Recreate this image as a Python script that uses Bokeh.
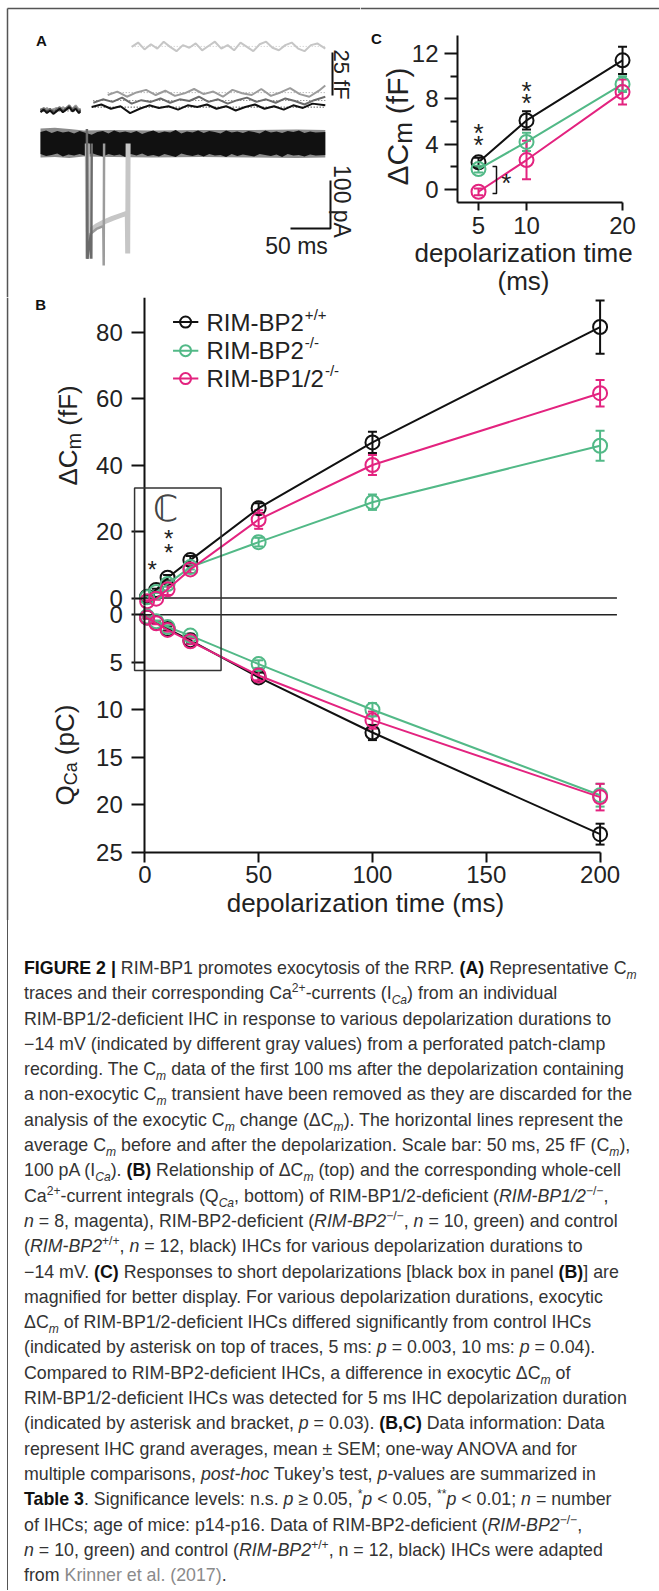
import math
from bokeh.plotting import figure
from bokeh.models import (Range1d, FixedTicker, Whisker, TeeHead, ColumnDataSource,
                          Label, BoxAnnotation, Div, LinearAxis)
from bokeh.layouts import column, row
from bokeh.embed import file_html
from bokeh.resources import INLINE

FONT = "Liberation Sans"
TXT = "#222222"
AXC = "#111111"
BLACK = "#111111"
GREEN = "#52b987"
MAGENTA = "#e3237f"
LGRAY = "#c6c6c6"
MGRAY = "#9c9c9c"
DGRAY = "#6b6b6b"
FRAME = "#555555"

# ---------------- data: panels B and C ----------------
durations = [1, 5, 10, 20, 50, 100, 200]
dcm_wt = [0.4, 2.4, 6.1, 11.4, 27.0, 46.8, 81.5]
dcm_wt_err = [0.3, 0.4, 0.8, 1.2, 1.5, 3.2, 8.0]
dcm_bp2 = [0.2, 1.8, 4.2, 9.3, 16.8, 28.8, 45.8]
dcm_bp2_err = [0.2, 0.3, 0.8, 0.7, 1.3, 2.3, 4.5]
dcm_bp12 = [-1.0, -0.2, 2.6, 8.6, 23.6, 40.0, 61.6]
dcm_bp12_err = [0.3, 0.3, 1.7, 1.1, 2.8, 3.0, 4.0]
qca_wt = [0.3, 0.8, 1.5, 2.7, 6.6, 12.4, 23.1]
qca_wt_err = [0.1, 0.1, 0.2, 0.3, 0.5, 0.8, 1.1]
qca_bp2 = [0.2, 0.7, 1.3, 2.2, 5.2, 10.0, 19.0]
qca_bp2_err = [0.1, 0.1, 0.2, 0.2, 0.4, 0.7, 1.2]
qca_bp12 = [0.3, 0.9, 1.6, 2.8, 6.4, 11.1, 19.2]
qca_bp12_err = [0.1, 0.1, 0.2, 0.3, 0.5, 0.9, 1.4]

short_dur = [5, 10, 20]
c_wt = [2.4, 6.1, 11.4]
c_wt_err = [0.4, 0.8, 1.2]
c_bp2 = [1.8, 4.2, 9.3]
c_bp2_err = [0.3, 0.8, 0.7]
c_bp12 = [-0.2, 2.6, 8.6]
c_bp12_err = [0.3, 1.7, 1.1]

legend_names = ["RIM-BP2", "RIM-BP2", "RIM-BP1/2"]
legend_sups = ["+/+", "-/-", "-/-"]

b_dcm_ticks = [0, 20, 40, 60, 80]
b_q_ticks = [0, 5, 10, 15, 20, 25]
b_t_ticks = [0, 50, 100, 150, 200]
c_y_ticks = [0, 4, 8, 12]
c_y_minor = [2, 6, 10]
c_x_ticks = [5, 10, 20]

# ---------------- data: panel A (representative traces) ----------------
t_pre = [0, 4, 8, 12, 16, 20, 24, 28, 32, 36, 40, 44, 48, 50]
cm_pre_black = [-1.0, 0.5, -1.5, 0.0, -2.0, -0.5, 1.0, -1.0, 0.5, 2.0, -0.5, 1.0, -1.5, -0.5]
cm_pre_dgray = [0.0, 1.5, -0.5, 1.0, -1.0, 0.5, 2.0, 0.0, 1.5, 3.0, 0.5, 2.0, -0.5, 0.5]
cm_pre_gray = [1.0, 0.0, 1.5, -0.5, 0.5, 1.5, 0.0, 2.0, 0.5, 1.5, 1.0, 3.0, 0.5, 1.0]

t_post_black = [64, 76, 88, 100, 112, 124, 136, 148, 160, 172, 184, 196, 208, 220, 232,
                244, 256, 268, 280, 292, 304, 316, 328, 340, 356]
cm_post_black = [2.0, 3.5, 1.0, 2.5, -1.5, 1.0, 3.0, 1.5, 2.5, 0.5, 3.0, 2.0, 3.5, 1.0, 2.5,
                 0.0, 2.0, 3.5, 1.0, 2.5, 0.5, 3.0, 1.5, 4.0, 3.0]
t_post_dgray = [66, 78, 90, 102, 114, 126, 138, 150, 162, 174, 186, 198, 210, 222, 234,
                246, 258, 270, 282, 294, 306, 318, 330, 342, 356]
cm_post_dgray = [4.5, 6.5, 5.0, 7.5, 4.0, 6.0, 5.0, 7.0, 4.5, 6.5, 5.5, 8.0, 5.0, 6.5, 4.0,
                 6.0, 7.5, 5.0, 6.5, 4.5, 7.0, 5.5, 3.5, 6.0, 8.0]
t_post_gray = [84, 96, 108, 120, 132, 144, 156, 168, 180, 192, 204, 216, 228, 240, 252,
               264, 276, 288, 300, 312, 324, 336, 348, 356]
cm_post_gray = [9.0, 11.0, 8.0, 10.5, 12.0, 9.0, 11.5, 8.5, 10.0, 12.5, 9.5, 11.0, 8.0, 12.0,
                10.0, 9.0, 12.5, 8.5, 10.5, 13.0, 9.5, 8.0, 11.5, 14.5]
t_post_lgray = [114, 122, 130, 138, 146, 154, 162, 170, 178, 186, 194, 202, 210, 218, 226,
                234, 242, 250, 258, 266, 274, 282, 290, 298, 306, 314, 322, 330, 338, 346, 356]
cm_post_lgray = [37, 39.5, 35.5, 38.5, 36, 40, 37, 34.5, 38, 36.5, 39, 35, 37.5, 40, 36, 38,
                 35, 39.5, 37, 34.5, 38.5, 40, 36.5, 35, 38, 39.5, 36, 34.5, 38, 39, 36]

t_band = [0, 7, 14, 21, 28, 35, 42, 49, 57, 64, 71, 78, 85, 92, 99, 106, 113, 120, 127, 134,
          141, 148, 155, 162, 169, 176, 183, 190, 197, 204, 211, 218, 225, 232, 239, 246,
          253, 260, 267, 274, 281, 288, 295, 302, 309, 316, 323, 330, 337, 344, 356]
i_band_hi = [24, 27, 22, 26, 23, 25, 21, 26, 22, 18, 24, 26, 21, 27, 23, 25, 22, 26, 20, 24,
             27, 22, 25, 23, 28, 21, 25, 23, 27, 22, 26, 24, 21, 27, 23, 25, 22, 26, 24, 21,
             27, 23, 25, 22, 26, 24, 27, 22, 25, 23, 24]
i_band_lo = [-22, -26, -24, -21, -27, -23, -25, -22, -26, -20, -24, -27, -22, -25, -23, -28,
             -22, -25, -21, -26, -24, -27, -22, -25, -28, -21, -24, -26, -23, -27, -22, -25,
             -24, -28, -22, -26, -23, -25, -27, -22, -24, -26, -23, -28, -22, -25, -24, -27,
             -23, -25, -24]
t_band2 = [0, 18, 36, 54, 90, 140, 200, 260, 320, 356]
i_band2_hi = [31, 33, 30, 27, 28, 27, 28, 28, 29, 28]
i_band2_lo = [-29, -28, -30, -27, -28, -29, -28, -29, -30, -29]

t_step_lgray = [58.5, 59, 60, 62, 70, 80, 90, 100, 108.5, 109, 109.5]
i_step_lgray = [0, -240, -195, -182, -172, -163, -156, -150, -145, -229, 0]
t_step_gray = [58.5, 59, 61, 70, 78.5, 79, 79.5]
i_step_gray = [0, -240, -190, -178, -172, -254, 0]
t_step_dgray = [58, 58.5, 62, 63, 63.5, 64]
i_step_dgray = [30, -240, -200, -190, -240, 0]

# ---------------- helpers ----------------
AW = {'Δ': 0.668, 'C': 0.722, 'm': 0.833, ' ': 0.278, '(': 0.333, ')': 0.333, 'f': 0.278,
      'F': 0.611, 'Q': 0.778, 'a': 0.556, 'p': 0.556, 'R': 0.722, 'I': 0.278, 'M': 0.833,
      '-': 0.333, 'B': 0.667, 'P': 0.667, '/': 0.278, '1': 0.556, '2': 0.556}


def tw(s, size):
    return sum(AW.get(ch, 0.556) for ch in s) * size


def lab(p, x, y, text, size, color=TXT, align="center", baseline="middle", angle=0.0,
        bold=False, font=FONT, **kw):
    p.add_layout(Label(x=x, y=y, text=text, text_font=font, text_font_size=f"{size}px",
                       text_color=color, text_align=align, text_baseline=baseline,
                       angle=angle, text_font_style="bold" if bold else "normal", **kw))


def vlabel(p, x, y0, y_per_px, x_per_px, parts, **kw):
    """Rotated label made of pieces (text, size, sideways shift px, gap before px)."""
    off = 0.0
    for txt, size, dx, gap in parts:
        off += gap
        lab(p, x + dx * x_per_px, y0 + off * y_per_px, txt, size, align="left",
            angle=math.pi / 2, **kw)
        off += tw(txt, size)


def style_axis(ax, size, tick_out):
    ax.axis_line_width = 2
    ax.axis_line_color = AXC
    ax.major_tick_line_width = 2
    ax.major_tick_line_color = AXC
    ax.minor_tick_line_width = 2
    ax.minor_tick_line_color = AXC
    ax.major_tick_in = 0
    ax.major_tick_out = tick_out
    ax.minor_tick_in = 0
    ax.minor_tick_out = 0
    ax.major_label_text_font = FONT
    ax.major_label_text_font_size = f"{size}px"
    ax.major_label_text_color = TXT


def series(p, x, y, err, color, size, rng=None):
    kw = {} if rng is None else {"y_range_name": rng}
    p.line(x, y, line_color=color, line_width=2, **kw)
    src = ColumnDataSource(dict(x=x, up=[a + b for a, b in zip(y, err)],
                                lo=[a - b for a, b in zip(y, err)]))
    p.add_layout(Whisker(source=src, base="x", upper="up", lower="lo", line_color=color,
                         line_width=2,
                         upper_head=TeeHead(size=9, line_color=color, line_width=2),
                         lower_head=TeeHead(size=9, line_color=color, line_width=2), **kw))
    p.scatter(x, y, marker="circle", size=size, fill_color=None, line_color=color,
              line_width=2, **kw)


def base_fig(**kw):
    p = figure(output_backend="svg", toolbar_location=None, outline_line_color=None,
               min_border=0, **kw)
    p.grid.grid_line_color = None
    return p


# ---------------- panel A ----------------
pA = base_fig(width=360, height=297, x_range=Range1d(-50, 400), y_range=Range1d(-108.72, 63.95),
              x_axis_location=None, y_axis_location=None)
pA.extra_y_ranges = {"I": Range1d(-320.8, 297.9)}
pA.varea(t_band2, i_band2_lo, i_band2_hi, fill_color="#8c8c8c", y_range_name="I")
pA.varea(t_band, i_band_lo, i_band_hi, fill_color=BLACK, y_range_name="I")
pA.line(t_step_lgray, i_step_lgray, line_color=LGRAY, line_width=5, y_range_name="I")
pA.line(t_step_gray, i_step_gray, line_color=MGRAY, line_width=2.5, y_range_name="I")
pA.line(t_step_dgray, i_step_dgray, line_color=DGRAY, line_width=2.5, y_range_name="I")

for tt, vv, col in [(t_pre, cm_pre_gray, MGRAY), (t_pre, cm_pre_dgray, DGRAY),
                    (t_pre, cm_pre_black, BLACK),
                    (t_post_lgray, cm_post_lgray, LGRAY), (t_post_gray, cm_post_gray, MGRAY),
                    (t_post_dgray, cm_post_dgray, DGRAY), (t_post_black, cm_post_black, BLACK)]:
    m = sum(vv) / len(vv)
    pA.line([tt[0], tt[-1]], [m, m], line_color=col, line_width=1, line_dash="1 2")
    pA.line(tt, vv, line_color=col, line_width=2)

# scale bars
pA.line([365, 365], [8.7, 33.7], line_color=BLACK, line_width=2)
pA.line([312.5, 362.5, 362.5], [-177, -177, -77], line_color=BLACK, line_width=2,
        y_range_name="I")
lab(pA, 376.25, 20.9, "25 fF", 22, angle=-math.pi / 2)
lab(pA, 376.25, -120.8, "100 pA", 23, angle=-math.pi / 2, y_range_name="I")
lab(pA, 320, -212.5, "50 ms", 23, y_range_name="I")
lab(pA, 1.25, 40.7, "A", 15, bold=True, color="#111")
# page frame (top and left rules)
pA.line([-41.25, 400], [59.3, 59.3], line_color=FRAME, line_width=1.5)
pA.line([-41.25, -41.25], [59.3, -108.72], line_color=FRAME, line_width=1.5)

# ---------------- panel C ----------------
pC = base_fig(width=299, height=297, x_range=Range1d(-7.29, 23.85), y_range=Range1d(-9.53, 16.68))
style_axis(pC.xaxis[0], 24, 8)
style_axis(pC.yaxis[0], 24, 13)
pC.xaxis.fixed_location = -1.15
pC.xaxis.bounds = (2.81, 20)
pC.xaxis.ticker = FixedTicker(ticks=c_x_ticks)
pC.xaxis.major_label_standoff = 6
pC.yaxis.fixed_location = 2.81
pC.yaxis.bounds = (-1.15, 13.6)
pC.yaxis.ticker = FixedTicker(ticks=c_y_ticks, minor_ticks=c_y_minor)
pC.yaxis.minor_tick_out = 7
pC.yaxis.major_label_standoff = 6
series(pC, short_dur, c_wt, c_wt_err, BLACK, 14)
series(pC, short_dur, c_bp2, c_bp2_err, GREEN, 14)
series(pC, short_dur, c_bp12, c_bp12_err, MAGENTA, 14)
pC.line([6.46, 6.875, 6.875, 6.46], [2.03, 2.03, -0.35, -0.35], line_color=BLACK, line_width=1.5)
lab(pC, 7.9, 0.6, "*", 26)
lab(pC, 5, 5.0, "*", 26)
lab(pC, 5, 3.9, "*", 26)
lab(pC, 10, 8.7, "*", 26)
lab(pC, 10, 7.6, "*", 26)
lab(pC, 9.69, -5.6, "depolarization time", 26)
lab(pC, 9.69, -8.1, "(ms)", 26)
vlabel(pC, -3.44, 0.35, 1 / 11.33, 1 / 9.6,
       [("ΔC", 30, 0, 0), ("m", 26, 6, 0), ("(fF)", 30, 0, 8)])
lab(pC, -5.63, 13.37, "C", 15, bold=True, color="#111")
pC.line([-7.29, 23.85], [15.98, 15.98], line_color=FRAME, line_width=1.5)

# ---------------- panel B ----------------
pB = base_fig(width=659, height=623, x_range=Range1d(-63.4, 226.1),
              y_range=Range1d(-96.99, 90.38))
pB.extra_y_ranges = {"Q": Range1d(32.19, -33.39)}
yax = pB.yaxis[0]
style_axis(yax, 24, 13)
yax.fixed_location = 0
yax.bounds = (-2.26, 90.38)
yax.ticker = FixedTicker(ticks=b_dcm_ticks)
yax.major_label_standoff = 9
qax = LinearAxis(y_range_name="Q", fixed_location=0, bounds=(-0.97, 25),
                 ticker=FixedTicker(ticks=b_q_ticks))
style_axis(qax, 24, 13)
qax.major_label_standoff = 9
pB.add_layout(qax, "left")
xax = pB.xaxis[0]
style_axis(xax, 24, 10)
xax.fixed_location = -76.45
xax.bounds = (0, 200)
xax.ticker = FixedTicker(ticks=b_t_ticks)
xax.major_label_standoff = 4

pB.line([0, 207.4], [0, 0], line_color="#222", line_width=1.5)
pB.line([0, 207.4], [0, 0], line_color="#222", line_width=1.5, y_range_name="Q")
pB.add_layout(BoxAnnotation(left=-4.5, right=33.5, bottom=-21.8, top=33.1, fill_color=None,
                            fill_alpha=0, line_color="#333", line_width=1.5, line_alpha=1))
series(pB, durations, dcm_wt, dcm_wt_err, BLACK, 14)
series(pB, durations, dcm_bp2, dcm_bp2_err, GREEN, 14)
series(pB, durations, dcm_bp12, dcm_bp12_err, MAGENTA, 14)
series(pB, durations, qca_wt, qca_wt_err, BLACK, 14, "Q")
series(pB, durations, qca_bp2, qca_bp2_err, GREEN, 14, "Q")
series(pB, durations, qca_bp12, qca_bp12_err, MAGENTA, 14, "Q")
lab(pB, 9.1, 26.9, "ℂ", 36, color="#444", font="DejaVu Sans")
lab(pB, 3.2, 8.6, "*", 24)
lab(pB, 10.5, 17.9, "*", 24)
lab(pB, 10.5, 13.7, "*", 24)
lab(pB, -45.8, 88.3, "B", 15, bold=True, color="#111")
vlabel(pB, -33.96, 33.83, 1 / 3.325, 1 / 2.276,
       [("ΔC", 26, 0, 0), ("m", 20, 6, 0), ("(fF)", 26, 0, 7)])
vlabel(pB, -35.28, 20.08, -1 / 9.5, 1 / 2.276,
       [("Q", 26, 0, 0), ("Ca", 18, 6, 0), ("(pC)", 26, 0, 7)], y_range_name="Q")
lab(pB, 96.9, 30.4, "depolarization time (ms)", 26, y_range_name="Q")
pB.line([-60.3, -60.3], [90.38, -96.99], line_color=FRAME, line_width=1.5)

leg_y = [83.0, 74.4, 66.0]
for i, col in enumerate([BLACK, GREEN, MAGENTA]):
    pB.line([12.4, 23.5], [leg_y[i], leg_y[i]], line_color=col, line_width=2)
    pB.scatter([17.9], [leg_y[i]], marker="circle", size=11, fill_color=None,
               line_color=col, line_width=2)
    lab(pB, 27.1, leg_y[i], legend_names[i], 24, align="left")
    lab(pB, 27.1 + (tw(legend_names[i], 24) + 1) / 2.276, leg_y[i] + 2.4, legend_sups[i], 15,
        align="left")

# ---------------- caption ----------------
m_ = "C<sub><i>m</i></sub>"
dm_ = "ΔC<sub><i>m</i></sub>"
lines = [
    "<b>FIGURE 2 |</b> RIM-BP1 promotes exocytosis of the RRP. <b>(A)</b> Representative " + m_,
    "traces and their corresponding Ca<sup>2+</sup>-currents (I<sub><i>Ca</i></sub>) from an individual",
    "RIM-BP1/2-deficient IHC in response to various depolarization durations to",
    "−14 mV (indicated by different gray values) from a perforated patch-clamp",
    "recording. The " + m_ + " data of the first 100 ms after the depolarization containing",
    "a non-exocytic " + m_ + " transient have been removed as they are discarded for the",
    "analysis of the exocytic " + m_ + " change (" + dm_ + "). The horizontal lines represent the",
    "average " + m_ + " before and after the depolarization. Scale bar: 50 ms, 25 fF (" + m_ + "),",
    "100 pA (I<sub><i>Ca</i></sub>). <b>(B)</b> Relationship of " + dm_ + " (top) and the corresponding whole-cell",
    "Ca<sup>2+</sup>-current integrals (Q<sub><i>Ca</i></sub>, bottom) of RIM-BP1/2-deficient (<i>RIM-BP1/2</i><sup>−/−</sup>,",
    "<i>n</i> = 8, magenta), RIM-BP2-deficient (<i>RIM-BP2</i><sup>−/−</sup>, <i>n</i> = 10, green) and control",
    "(<i>RIM-BP2</i><sup>+/+</sup>, <i>n</i> = 12, black) IHCs for various depolarization durations to",
    "−14 mV. <b>(C)</b> Responses to short depolarizations [black box in panel <b>(B)</b>] are",
    "magnified for better display. For various depolarization durations, exocytic",
    dm_ + " of RIM-BP1/2-deficient IHCs differed significantly from control IHCs",
    "(indicated by asterisk on top of traces, 5 ms: <i>p</i> = 0.003, 10 ms: <i>p</i> = 0.04).",
    "Compared to RIM-BP2-deficient IHCs, a difference in exocytic " + dm_ + " of",
    "RIM-BP1/2-deficient IHCs was detected for 5 ms IHC depolarization duration",
    "(indicated by asterisk and bracket, <i>p</i> = 0.03). <b>(B,C)</b> Data information: Data",
    "represent IHC grand averages, mean ± SEM; one-way ANOVA and for",
    "multiple comparisons, <i>post-hoc</i> Tukey’s test, <i>p</i>-values are summarized in",
    "<b>Table 3</b>. Significance levels: n.s. <i>p</i> ≥ 0.05, <sup>*</sup><i>p</i> &lt; 0.05, <sup>**</sup><i>p</i> &lt; 0.01; <i>n</i> = number",
    "of IHCs; age of mice: p14-p16. Data of RIM-BP2-deficient (<i>RIM-BP2</i><sup>−/−</sup>,",
    "<i>n</i> = 10, green) and control (<i>RIM-BP2</i><sup>+/+</sup>, n = 12, black) IHCs were adapted",
    "from <span style=\"color:#8a8a8a\">Krinner et al. (2017)</span>.",
]
css = """<style>
.capwrap{margin-left:7px;border-left:1.5px solid #555;height:670px;box-sizing:border-box;
         padding:36px 0 0 16px;}
.cap{font-family:'Liberation Sans',Arial,sans-serif;font-size:17.8px;color:#333;}
.cap .l{height:25.3px;line-height:25.3px;white-space:nowrap;}
.cap sup,.cap sub{font-size:0.68em;line-height:0;}
.cap b{color:#111;}
</style>"""
html = (css + "<div class='capwrap'><div class='cap'>"
        + "".join(f"<div class='l'>{s}</div>" for s in lines) + "</div></div>")
cap = Div(text=html, width=659, height=670, margin=0)

layout = column(row(pA, pC), pB, cap)

open("out.html", "w").write(file_html(layout, INLINE, "Figure 2"))
